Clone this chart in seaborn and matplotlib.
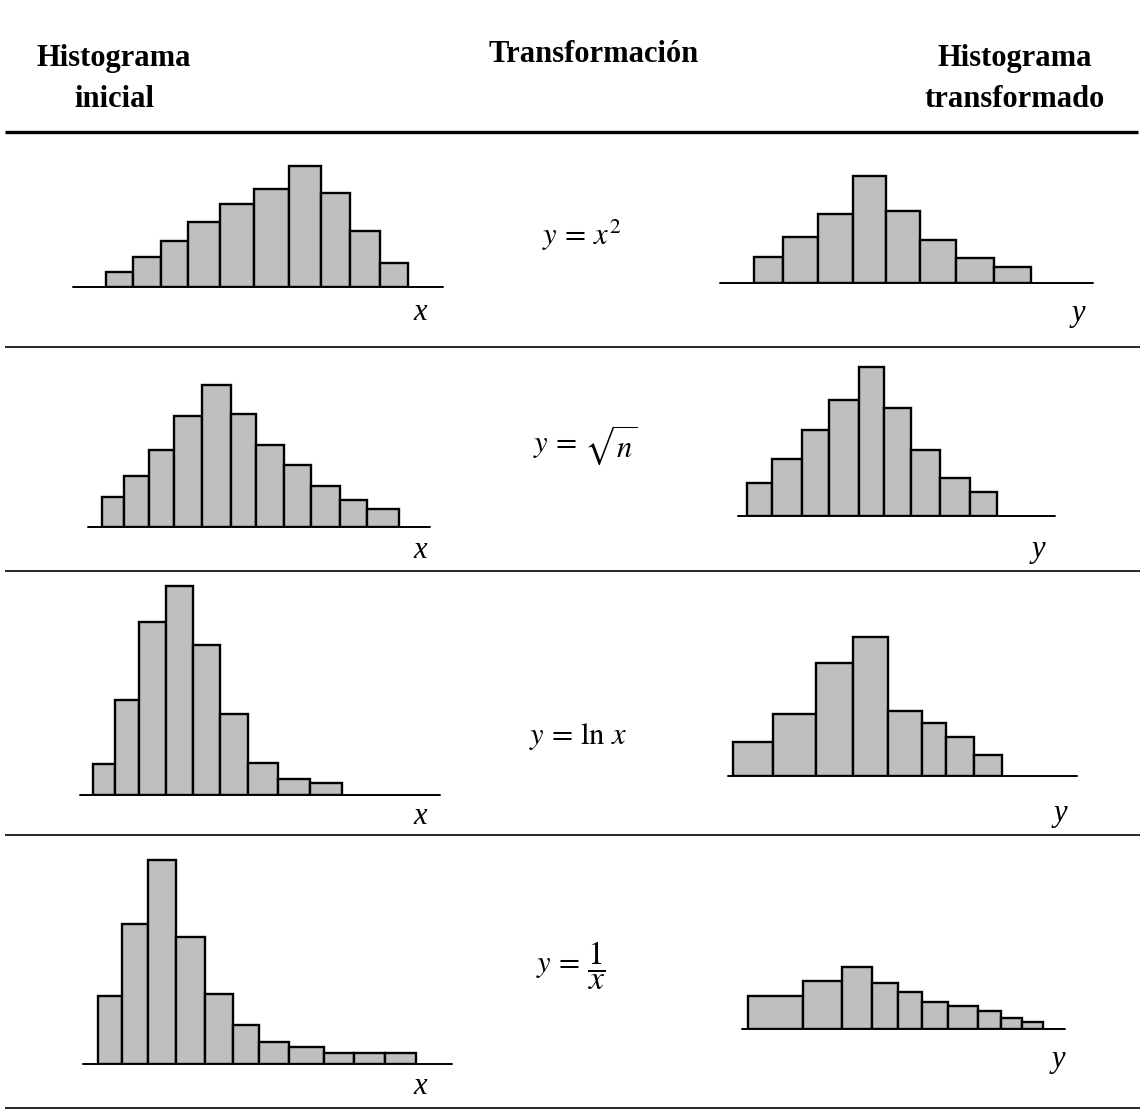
"""Histogram transformations table: initial histogram, transformation, transformed histogram."""

import matplotlib
matplotlib.use("Agg")
import matplotlib.pyplot as plt
import numpy as np
import pandas as pd
import seaborn as sns

# --- Data (bin edges and bar heights) --------------------------------------
left_edges_1 = [33, 60, 88, 115, 147, 181, 216, 248, 277, 307, 335]
left_heights_1 = [15, 30, 46, 65, 83, 98, 121, 94, 56, 24]
right_edges_1 = [34, 63, 98, 133, 166, 200, 236, 274, 311]
right_heights_1 = [26, 46, 69, 107, 72, 43, 25, 16]

left_edges_2 = [14, 36, 61, 86, 114, 143, 168, 196, 223, 252, 279, 311]
left_heights_2 = [30, 51, 77, 111, 142, 113, 82, 62, 41, 27, 18]
right_edges_2 = [9, 34, 64, 91, 121, 146, 173, 202, 232, 259]
right_heights_2 = [33, 57, 86, 116, 149, 108, 66, 38, 24]

left_edges_3 = [13, 35, 59, 86, 113, 140, 168, 198, 230, 262]
left_heights_3 = [31, 95, 173, 209, 150, 81, 32, 16, 12]
right_edges_3 = [5, 45, 88, 125, 160, 194, 218, 246, 274]
right_heights_3 = [34, 62, 113, 139, 65, 53, 39, 21]

left_edges_4 = [15, 39, 65, 93, 122, 150, 176, 206, 241, 271, 302, 333]
left_heights_4 = [68, 140, 204, 127, 70, 39, 22, 17, 11, 11, 11]
right_edges_4 = [6, 61, 100, 130, 156, 180, 206, 236, 259, 280, 301]
right_heights_4 = [33, 48, 62, 46, 37, 27, 23, 18, 11, 7]

# each transformation as (left side, right side)
transforms = [(r"$y\,=$", r"$x^{2}$"), (r"$y\,=$", r"$\sqrt{n}$"),
              (r"$y\,=$", r"$\ln\,x$"), (r"$y\,=$", r"$\dfrac{1}{x}$")]
headers = ["Histograma\ninicial", "Transformación", "Histograma\ntransformado"]
var_labels = ["x", "y"]

# --- Layout (pixels, figure is 1144 x 1111) ---------------------------------
W, H = 1144, 1111
# (baseline left, baseline y, baseline length) per histogram
left_boxes = [(73, 287, 370), (88, 527, 342), (80, 795, 360), (83, 1064, 369)]
right_boxes = [(720, 283, 373), (738, 516, 317), (728, 776, 349), (742, 1029, 323)]
eq_pos = [(586, 237), (577, 445), (573, 737), (580, 966)]
x_label_pos = [(420, 313), (420, 550), (420, 817), (420, 1087)]
y_label_pos = [(1078, 313), (1038, 550), (1060, 813), (1058, 1060)]
separators = [347, 571, 835, 1108]

BAR_COLOR = "#bfbfbf"

sns.set_theme(style="white")
plt.rcParams["mathtext.fontset"] = "stix"
plt.rcParams["font.family"] = ["Liberation Serif", "DejaVu Serif"]
plt.rcParams["text.color"] = "black"

fig = plt.figure(figsize=(W / 100, H / 100), dpi=100)
fig.patch.set_facecolor("white")

# background axes in pixel coordinates for rules and text
bg = fig.add_axes([0, 0, 1, 1])
bg.set_xlim(0, W)
bg.set_ylim(H, 0)
bg.axis("off")

bg.text(114, 79, headers[0], ha="center", va="center", fontsize=22,
        fontweight="bold", linespacing=1.55)
bg.text(594, 55, headers[1], ha="center", va="center", fontsize=22,
        fontweight="bold")
bg.text(1015, 79, headers[2], ha="center", va="center", fontsize=22,
        fontweight="bold", linespacing=1.55)
bg.hlines(132, 5, 1138, color="black", lw=2.4)
bg.hlines(separators, 5, 1140, color="black", lw=1.2)


def draw_hist(box, edges, heights):
    x0, base_y, length = box
    top = max(heights) + 6
    ax = fig.add_axes([x0 / W, 1 - base_y / H, length / W, top / H])
    edges = np.asarray(edges, dtype=float)
    df = pd.DataFrame({"mid": (edges[:-1] + edges[1:]) / 2, "count": heights})
    sns.histplot(data=df, x="mid", weights="count", bins=edges.tolist(), ax=ax,
                 color=BAR_COLOR, edgecolor="black", linewidth=1.7, alpha=1)
    ax.set_xlim(0, length)
    ax.set_ylim(0, top)
    ax.axhline(0, color="black", lw=1.4, clip_on=False)
    ax.axis("off")
    return ax


left_data = [(left_edges_1, left_heights_1), (left_edges_2, left_heights_2),
             (left_edges_3, left_heights_3), (left_edges_4, left_heights_4)]
right_data = [(right_edges_1, right_heights_1), (right_edges_2, right_heights_2),
              (right_edges_3, right_heights_3), (right_edges_4, right_heights_4)]

for i in range(4):
    draw_hist(left_boxes[i], *left_data[i])
    draw_hist(right_boxes[i], *right_data[i])
    tx, ty = eq_pos[i]
    lhs, rhs = transforms[i]
    bg.text(tx, ty, lhs, ha="right", va="center", fontsize=22)
    rhs_size = 24 if i == 3 else 22
    bg.text(tx + 7, ty, rhs, ha="left", va="center", fontsize=rhs_size)
    bg.text(*x_label_pos[i], var_labels[0], ha="center", va="center",
            fontsize=22, style="italic")
    bg.text(*y_label_pos[i], var_labels[1], ha="center", va="center",
            fontsize=22, style="italic")

fig.savefig("out.png", dpi=100)
plt.close(fig)
